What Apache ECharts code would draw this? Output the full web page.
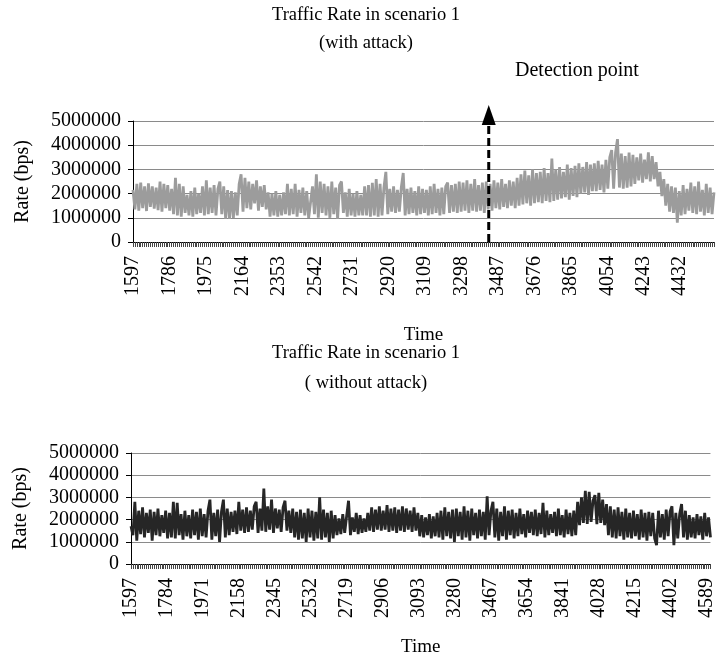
<!DOCTYPE html>
<html>
<head>
<meta charset="utf-8">
<title>Traffic Rate in scenario 1</title>
<script src="https://cdn.jsdelivr.net/npm/echarts@6/dist/echarts.min.js"></script>
<style>
html, body { margin: 0; padding: 0; background: #fff; }
#main { width: 717px; height: 658px; }
</style>
</head>
<body>
<div id="main"></div>
<script>
// one reading every 10 time units, from 1597 on
var startTime = 1597;
var timeStep = 10;
var detectTime = 3440;

var topLabels = [1597, 1786, 1975, 2164, 2353, 2542, 2731, 2920, 3109, 3298, 3487, 3676, 3865, 4054, 4243, 4432];
var bottomLabels = [1597, 1784, 1971, 2158, 2345, 2532, 2719, 2906, 3093, 3280, 3467, 3654, 3841, 4028, 4215, 4402, 4589];

// rate readings in kbps (with attack)
var withAttack = [
  2150,1350,2400,1300,2450,1400,2300,1280,2420,1450,
  2300,1380,2250,1320,2500,1250,2400,1400,2350,1300,
  2200,1150,2650,1100,2400,1050,2300,1200,1950,1100,
  2100,1050,2250,1150,2000,1200,2300,1100,2550,1150,
  2250,1200,2350,1100,2200,2500,1150,2300,950,2150,
  950,2100,1000,2050,1100,2400,2800,1250,2650,1400,
  2500,1350,2400,1600,2550,1300,2300,1450,2350,1350,
  2050,1050,2000,1100,2100,1050,1950,1100,2050,1150,
  2400,1100,2200,1150,2400,1050,2150,1200,2250,1100,
  2100,1000,950,2300,1150,2800,1000,2500,1200,2400,
  1100,2300,1000,2500,1150,2250,950,2350,2500,1200,
  2050,1050,2200,1100,2000,1050,2100,1100,1950,1100,
  2300,1100,2350,1050,2450,1100,2600,1050,2400,1100,
  2250,2900,1150,2200,1250,2300,1200,2150,1250,2250,
  2850,1100,2200,1150,2250,1200,2100,1100,2300,1150,
  2200,1200,2150,1100,2300,1150,2400,1200,2200,1100,
  2250,1150,2300,2450,1200,2350,1250,2400,1200,2500,
  1250,2450,1300,2550,1200,2400,1300,2600,1250,2350,
  1300,2450,1200,2500,1350,2400,1300,2550,1400,2450,
  1350,2600,1450,2400,1400,2550,1500,2500,1400,2650,
  1500,2800,1550,2950,1600,2750,1500,3000,1600,2850,
  1650,2900,1600,3050,1700,2850,1650,3450,1700,3000,
  1750,3100,1800,2900,1850,3200,1750,3050,1900,3150,
  1850,3250,2000,3100,2050,3300,1950,3200,2100,3250,
  2100,3350,2150,3200,2050,3400,2200,3500,3800,2200,
  3700,4250,2250,3650,2200,3550,2250,3700,2300,3600,
  2400,3500,2550,3650,2450,3400,2600,3700,2500,3550,
  2600,3300,2300,2900,1900,2600,1500,2400,1250,2300,
  1200,2250,800,2100,1100,2350,1150,2200,1300,2450,
  1200,2300,1150,2500,1250,2150,1100,2400,1200,2250,
  1150,2050
];

// rate readings in kbps (without attack)
var withoutAttack = [
  1700,1300,2800,1050,2400,1350,2550,1200,2300,1400,
  2450,1050,2350,1300,2500,1250,2200,1400,2400,1150,
  2300,1200,2800,1150,2750,1300,2250,1100,2400,1250,
  2200,1150,2450,1300,2350,1100,2500,1250,2250,1200,
  2400,2900,1100,2300,1250,2450,1000,2350,2900,1200,
  2500,1300,2350,1450,2400,1350,2800,1500,2450,1400,
  2550,1450,2400,1550,2600,2800,1400,2500,1500,3400,
  1450,2600,1550,2900,1400,2500,1600,2450,1450,2550,
  2850,1500,2400,1400,2500,1200,2350,1100,2450,1150,
  2300,1000,2500,1200,2400,1050,2350,1150,3000,1100,
  2450,1200,2300,1000,2400,1150,2200,1300,2050,1350,
  2250,1400,2150,2850,1300,2100,1450,2300,1350,2200,
  1400,2050,1450,2300,1500,2550,1450,2450,1550,2600,
  1500,2400,1550,2650,1450,2500,1500,2550,1400,2450,
  1500,2600,1450,2500,1550,2400,1450,2550,1500,2300,
  1250,2200,1200,2100,1300,2250,1150,2150,1250,2300,
  1200,2400,1100,2550,1250,2350,1150,2450,1000,2500,
  1250,2350,1100,2600,1200,2400,1050,2500,1300,2300,
  1150,2450,1250,2350,1100,3050,1300,2400,2800,1200,
  2500,1050,2350,1250,2600,1100,2400,1300,2450,1150,
  2300,1250,2500,1350,2250,1200,2400,1400,2350,1300,
  2450,1250,2300,1350,2750,1200,2400,1300,2250,1400,
  2350,1250,2500,1300,2200,1200,2450,1350,2300,1250,
  2400,1300,2800,1750,3000,1850,3300,1800,3250,1900,
  2850,3100,1800,3200,1850,2900,1750,2700,1300,2600,
  1200,2450,1150,2550,1250,2350,1100,2500,1200,2300,
  1150,2400,1250,2250,1100,2450,1200,2300,1050,2350,
  1250,2300,1150,850,2400,1200,2250,1100,2450,1250,
  2350,2600,850,2300,1150,2250,2700,1200,2400,1100,
  2200,1200,2100,1150,2250,1300,2150,1100,2300,1250,
  2100,1200
];

var endTime = startTime + (withAttack.length - 1) * timeStep;
var serif = 'Liberation Serif';

function toPairs(arr) {
  return arr.map(function (v, i) { return [startTime + i * timeStep, v * 1000]; });
}

function plain(v) { return String(v); }

// dense category-style ticks along the time axis
var denseTicks = [];
for (var t = startTime; t <= endTime; t += timeStep) denseTicks.push(t);

function makeX(gridIndex, labels, gap) {
  return {
    type: 'value', gridIndex: gridIndex, min: startTime, max: endTime,
    name: 'Time', nameLocation: 'middle', nameGap: gap,
    nameTextStyle: { fontFamily: serif, fontSize: 19, color: '#000' },
    axisLine: { show: true, onZero: false, lineStyle: { color: '#000', width: 1 } },
    axisTick: { show: true, customValues: denseTicks, length: 5, lineStyle: { color: '#444', width: 1 } },
    axisLabel: { customValues: labels, rotate: 90, margin: 14, fontFamily: serif, fontSize: 20, color: '#000',
      formatter: plain },
    splitLine: { show: false }
  };
}

function makeY(gridIndex) {
  return {
    type: 'value', gridIndex: gridIndex, min: 0, max: 5000000, interval: 1000000,
    name: 'Rate (bps)', nameLocation: 'middle', nameGap: 100,
    nameTextStyle: { fontFamily: serif, fontSize: 20, color: '#000' },
    axisLine: { show: true, lineStyle: { color: '#000', width: 1 } },
    axisTick: { show: true, length: 5, lineStyle: { color: '#000' } },
    axisLabel: { margin: 12, fontFamily: serif, fontSize: 20, color: '#000', formatter: plain },
    splitLine: { show: true, lineStyle: { color: '#8a8a8a', width: 1 } }
  };
}

var titleStyle = { fontFamily: serif, fontSize: 18.5, fontWeight: 'normal', color: '#000' };

var myChart = echarts.init(document.getElementById('main'));
var option = {
  animation: false,
  title: [
    { text: 'Traffic Rate in scenario 1\n(with attack)', left: 366, top: 1, textAlign: 'center', padding: 0,
      textStyle: Object.assign({ lineHeight: 28 }, titleStyle) },
    { text: 'Detection point', left: 515, top: 61, padding: 0,
      textStyle: Object.assign({}, titleStyle, { fontSize: 20 }) },
    { text: 'Traffic Rate in scenario 1\n( without attack)', left: 366, top: 338, textAlign: 'center', padding: 0,
      textStyle: Object.assign({ lineHeight: 30 }, titleStyle) }
  ],
  grid: [
    { left: 133, right: 3, top: 121, height: 121 },
    { left: 131, right: 3, top: 453, height: 113 }
  ],
  xAxis: [makeX(0, topLabels, 84), makeX(1, bottomLabels, 74)],
  yAxis: [makeY(0), makeY(1)],
  series: [
    { type: 'line', xAxisIndex: 0, yAxisIndex: 0, data: toPairs(withAttack),
      showSymbol: false, symbol: 'none', lineStyle: { color: '#9c9c9c', width: 2.8, join: 'bevel' } },
    { type: 'line', xAxisIndex: 1, yAxisIndex: 1, data: toPairs(withoutAttack),
      showSymbol: false, symbol: 'none', lineStyle: { color: '#262626', width: 2.8, join: 'bevel' } }
  ]
};
myChart.setOption(option);

// detection arrow, placed at detectTime through the axis scale
var base = myChart.convertToPixel({ gridIndex: 0 }, [detectTime, 0]);
var tipY = 121 - 16;
myChart.setOption({
  graphic: [
    { type: 'line', z: 100, shape: { x1: base[0], y1: base[1], x2: base[0], y2: tipY + 18 },
      style: { stroke: '#000', lineWidth: 3, lineDash: [8, 4] } },
    { type: 'polygon', z: 100, shape: { points: [[base[0], tipY], [base[0] - 7, tipY + 20], [base[0] + 7, tipY + 20]] },
      style: { fill: '#000' } }
  ]
});
</script>
</body>
</html>
